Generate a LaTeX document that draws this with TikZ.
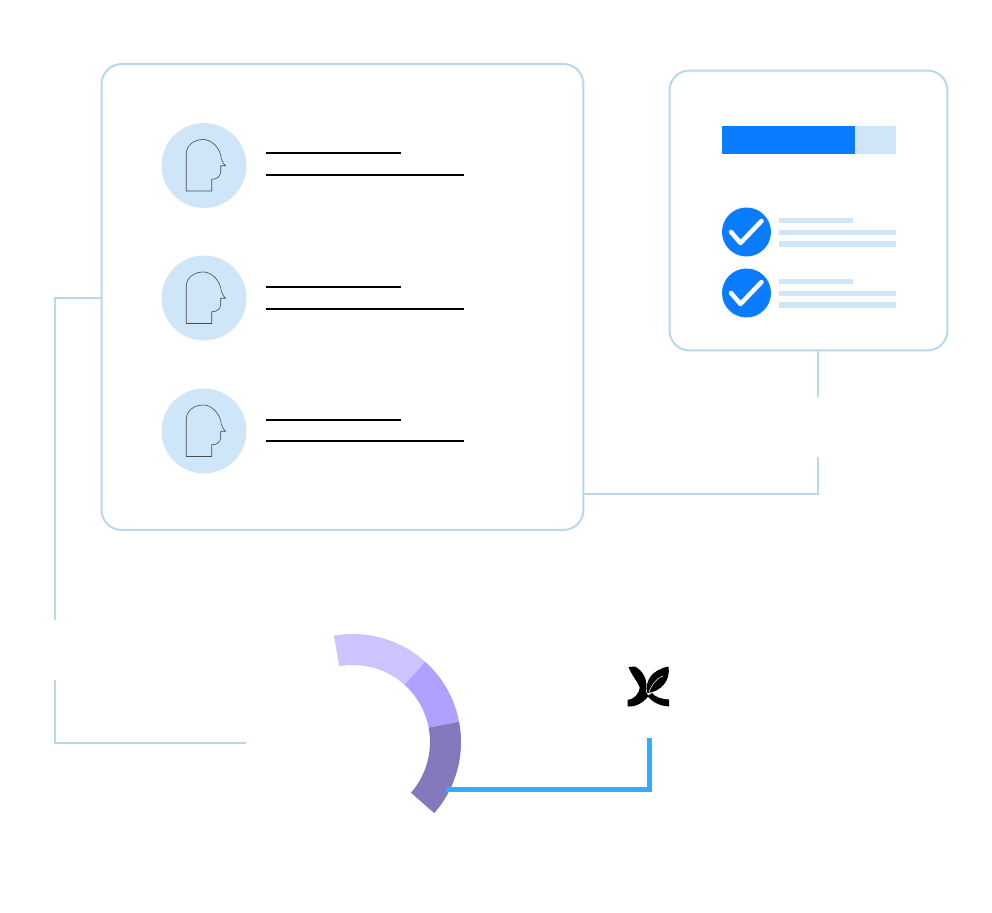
\documentclass[tikz,border=0pt]{standalone}
\usepackage{tikz}
\usetikzlibrary{calc}
\definecolor{cardline}{HTML}{B9D8EA}
\definecolor{palefill}{HTML}{CFE6F8}
\definecolor{brightblue}{HTML}{0A7CFF}
\definecolor{linkblue}{HTML}{30ADFF}
\definecolor{ringa}{HTML}{CCC4FF}
\definecolor{ringb}{HTML}{AFA1FF}
\definecolor{ringc}{HTML}{8478BC}
\tikzset{
	card/.style={draw=cardline, line width=.04cm, rounded corners=.4cm, fill=white, inner sep=0pt},
	link/.style={draw=cardline, line width=.04cm},
	bluelink/.style={draw=linkblue, line width=.1cm},
	avatar/.style={circle, fill=palefill, minimum size=1.7cm, inner sep=0pt},
	tick/.style={circle, fill=brightblue, minimum size=.98cm, inner sep=0pt},
	rule/.style={draw=black, line width=.04cm},
	pics/headicon/.style={code={
		\draw[line width=.35pt, draw=black!70] (-17.7,25.5) -- (7.7,25.5) -- (7.7,13.8)
			.. controls (13,13.8) and (16.7,11) .. (16.7,6.2) -- (16.7,.2) -- (21.5,.2)
			.. controls (19,-2) and (17,-6) .. (16.7,-10.5)
			.. controls (14,-20) and (6,-26) .. (-.7,-26)
			.. controls (-10,-26) and (-17.7,-20) .. (-17.7,-12) -- cycle;
	}},
	pics/tickmark/.style={code={
		\draw[white, line width=.09cm, line cap=round, line join=round] (-15.5,0) -- (-6,11) -- (15,-11);
	}}
}
\begin{document}
\begin{tikzpicture}[x=.02cm, y=-.02cm]

	\useasboundingbox (0,0) rectangle (992,913);
	\fill[white] (0,0) rectangle (992,913);

	% cards
	\node[card, minimum width=9.64cm, minimum height=9.32cm] (maincard) at (342.5,297) {};
	\node[card, minimum width=5.56cm, minimum height=5.6cm] (checkcard) at (808.5,210.5) {};

	% connectors
	\coordinate (leftgapa) at (55,620);
	\coordinate (leftgapb) at (55,680);
	\coordinate (leftend) at (245.5,742.5);
	\coordinate (rightgapa) at (818,397);
	\coordinate (rightgapb) at (818,457);
	\coordinate (mainout) at (583,493.7);
	\coordinate (ringout) at (446,789);
	\coordinate (logoin) at (649,738);

	\draw[link] ([yshift=-.02cm]maincard.west) -| (leftgapa);
	\draw[link] (leftgapb) |- (leftend);
	\draw[link] (checkcard.south -| rightgapa) -- (rightgapa);
	\draw[link] (mainout) -| (rightgapb);

	% people
	\node[avatar] (avatara) at (204,165.5) {};
	\node[avatar] (avatarb) at (204,298) {};
	\node[avatar] (avatarc) at (204,431) {};
	\pic at (avatara) {headicon};
	\pic at (avatarb) {headicon};
	\pic at (avatarc) {headicon};

	\draw[rule] (266,153) -- (401,153);
	\draw[rule] (266,175) -- (464,175);
	\draw[rule] (266,287) -- (401,287);
	\draw[rule] (266,309) -- (464,309);
	\draw[rule] (266,420) -- (401,420);
	\draw[rule] (266,441) -- (464,441);

	% progress bar
	\fill[palefill] (855,126) rectangle (895.5,154);
	\fill[brightblue] (722,126) rectangle (855,154);

	% checklist
	\node[tick] (ticka) at (746.5,232) {};
	\node[tick] (tickb) at (746.5,293) {};
	\pic at (ticka) {tickmark};
	\pic at (tickb) {tickmark};

	\fill[palefill] (779,217.5) rectangle (853,223);
	\fill[palefill] (779,229.5) rectangle (896,235);
	\fill[palefill] (779,241) rectangle (896,246.5);
	\fill[palefill] (779,278.5) rectangle (853,284);
	\fill[palefill] (779,290.5) rectangle (896,296);
	\fill[palefill] (779,302) rectangle (896,307.5);

	% ring
	\fill[ringa] ($(353,742)+(-100.2:108)$) arc[start angle=-100.2, end angle=-48, radius=108]
		-- ($(353,742)+(-48:77)$) arc[start angle=-48, end angle=-100.2, radius=77] -- cycle;
	\fill[ringb] ($(353,742)+(-48:108)$) arc[start angle=-48, end angle=-10.8, radius=108]
		-- ($(353,742)+(-10.8:77)$) arc[start angle=-10.8, end angle=-48, radius=77] -- cycle;
	\fill[ringc] ($(353,742)+(-10.8:108)$) arc[start angle=-10.8, end angle=41.2, radius=108]
		-- ($(353,742)+(41.2:77)$) arc[start angle=41.2, end angle=-10.8, radius=77] -- cycle;

	\draw[bluelink] (ringout) -| (logoin);

	% logo
	\fill[black] (628.5,667) -- (635,666.5) .. controls (643,671) and (648,679) .. (646,692)
		-- (640,688) .. controls (638,682) and (632,676) .. (628.5,667) -- cycle;
	\fill[black] (627.5,700) .. controls (634,699.5) and (639,694) .. (640,687) -- (646,692)
		-- (648.5,696) .. controls (643,703) and (636,707) .. (627.5,706.5) -- cycle;
	\fill[black] (668.5,666.5) .. controls (671,680) and (661,692) .. (647,693)
		.. controls (645,680) and (652,670) .. (668.5,666.5) -- cycle;
	\fill[black] (652,693) .. controls (655,697) and (661,699) .. (669,699.5) -- (669,706.5)
		.. controls (660,706) and (652,702) .. (647.5,696) -- cycle;
	\draw[white, line width=.3pt] (663,676) .. controls (657,678) and (652,684) .. (649,692);

\end{tikzpicture}
\end{document}
